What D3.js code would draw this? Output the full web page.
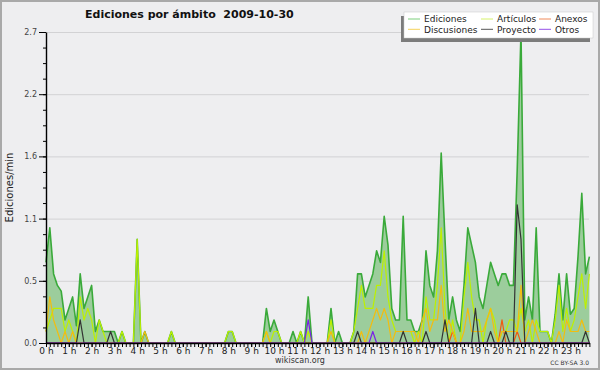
<!DOCTYPE html>
<html>
<head>
<meta charset="utf-8">
<script src="https://cdn.jsdelivr.net/npm/d3@7"></script>
<style>
  body { margin: 0; background: #fff; }
  text { font-family: "DejaVu Sans", sans-serif; }
</style>
</head>
<body>
<svg id="chart" width="600" height="370"></svg>
<script>
// one value every 10 minutes, edits per minute
let ediciones = [
  0.7, 1.0, 0.6, 0.5, 0.45, 0.2,
  0.3, 0.4, 0.15, 0.6, 0.3, 0.4,
  0.5, 0.1, 0.2, 0.1, 0.1, 0.1,
  0.1, 0, 0.1, 0, 0, 0,
  0.9, 0, 0.1, 0, 0, 0,
  0, 0, 0, 0.1, 0, 0,
  0, 0, 0, 0, 0, 0,
  0, 0, 0, 0, 0, 0,
  0.1, 0.1, 0, 0, 0, 0,
  0, 0, 0, 0, 0.3, 0.1,
  0.2, 0.1, 0, 0, 0, 0.1,
  0, 0.1, 0, 0.4, 0, 0,
  0, 0, 0, 0.3, 0, 0.1,
  0, 0, 0, 0.1, 0.6, 0.6,
  0.4, 0.5, 0.6, 0.8, 0.7, 1.1,
  0.85, 0.3, 0.2, 0.2, 1.1, 0.2,
  0.2, 0.1, 0.1, 0.2, 0.8, 0.5,
  0.4, 0.8, 1.65, 0.9, 0.2, 0.4,
  0.2, 0.1, 0.5, 1.0, 0.85, 0.7,
  0.4, 0.3, 0.5, 0.7, 0.6, 0.5,
  0.6, 0.6, 0.5, 0.5, 1.5, 2.7,
  0.2, 0.4, 0.2, 1.0, 0.1, 0.1,
  0.1, 0, 0.25, 0.6, 0.2, 0.6,
  0.25, 0.3, 0.75, 1.3, 0.6, 0.75
];
let articulos = [
  0.1, 0.2, 0.3, 0.3, 0.3, 0.1,
  0.2, 0.1, 0, 0.4, 0.2, 0.3,
  0.2, 0, 0.2, 0.1, 0, 0,
  0, 0, 0.1, 0, 0, 0,
  0.9, 0, 0, 0, 0, 0,
  0, 0, 0, 0.1, 0, 0,
  0, 0, 0, 0, 0, 0,
  0, 0, 0, 0, 0, 0,
  0.1, 0.1, 0, 0, 0, 0,
  0, 0, 0, 0, 0.1, 0,
  0.1, 0.1, 0, 0, 0, 0,
  0, 0.1, 0, 0.1, 0, 0,
  0, 0, 0, 0.2, 0, 0,
  0, 0, 0, 0.1, 0.3, 0.5,
  0.3, 0.3, 0.3, 0.5, 0.5, 0.8,
  0.4, 0.2, 0.1, 0.1, 0.1, 0.1,
  0.1, 0, 0.1, 0, 0.4, 0.2,
  0.2, 0.5, 1.0, 0.3, 0, 0.2,
  0, 0, 0.4, 0.7, 0.4, 0.2,
  0.2, 0, 0.2, 0.3, 0.2, 0,
  0.1, 0.1, 0.2, 0.2, 0.1, 0.3,
  0.1, 0.2, 0, 0.2, 0.1, 0.1,
  0.1, 0, 0.2, 0.5, 0.1, 0.3,
  0.1, 0.2, 0.4, 0.6, 0.3, 0.6
];
let discusiones = [
  0.1, 0.4, 0.2, 0.1, 0, 0.1,
  0, 0.1, 0, 0, 0, 0,
  0, 0, 0, 0, 0, 0,
  0, 0, 0, 0, 0, 0,
  0, 0, 0.1, 0, 0, 0,
  0, 0, 0, 0, 0, 0,
  0, 0, 0, 0, 0, 0,
  0, 0, 0, 0, 0, 0,
  0, 0, 0, 0, 0, 0,
  0, 0, 0, 0, 0.1, 0,
  0, 0, 0, 0, 0, 0,
  0, 0, 0, 0, 0, 0,
  0, 0, 0, 0.1, 0, 0,
  0, 0, 0, 0, 0, 0.1,
  0, 0.1, 0.2, 0.3, 0.2, 0.3,
  0.2, 0, 0.1, 0.1, 0.1, 0.1,
  0.1, 0.1, 0, 0.2, 0.3, 0.1,
  0.2, 0.2, 0.5, 0.1, 0.2, 0.1,
  0, 0, 0.1, 0.3, 0.1, 0.1,
  0.1, 0.1, 0.2, 0.3, 0.1, 0,
  0.1, 0.1, 0.1, 0.1, 0.1, 0.5,
  0, 0.1, 0.2, 0.1, 0, 0,
  0, 0, 0, 0.1, 0, 0.2,
  0.1, 0.1, 0.1, 0.2, 0.1, 0.1
];
let proyecto = [
  0, 0, 0, 0, 0, 0,
  0, 0, 0, 0.2, 0, 0,
  0, 0, 0, 0, 0, 0.1,
  0, 0, 0, 0, 0, 0,
  0, 0, 0, 0, 0, 0,
  0, 0, 0, 0, 0, 0,
  0, 0, 0, 0, 0, 0,
  0, 0, 0, 0, 0, 0,
  0, 0, 0, 0, 0, 0,
  0, 0, 0, 0, 0, 0,
  0, 0, 0, 0, 0, 0,
  0, 0, 0, 0, 0, 0,
  0, 0, 0, 0, 0, 0,
  0, 0, 0, 0, 0.1, 0,
  0, 0, 0, 0, 0, 0,
  0, 0, 0, 0, 0.1, 0,
  0, 0, 0, 0, 0.1, 0,
  0, 0, 0, 0.2, 0, 0,
  0, 0, 0, 0, 0, 0.3,
  0, 0, 0, 0.1, 0, 0,
  0, 0.1, 0, 0, 1.2, 0.9,
  0, 0, 0, 0, 0, 0,
  0, 0, 0, 0, 0, 0,
  0, 0, 0, 0, 0.1, 0
];
let anexos = [
  0, 0, 0, 0, 0, 0,  0, 0, 0, 0, 0, 0,  0, 0, 0, 0, 0, 0,
  0, 0, 0, 0, 0, 0,  0, 0, 0, 0, 0, 0,  0, 0, 0, 0, 0, 0,
  0, 0, 0, 0, 0, 0,  0, 0, 0, 0, 0, 0,  0, 0, 0, 0, 0, 0,
  0, 0, 0, 0, 0, 0,  0, 0, 0, 0, 0, 0,  0, 0, 0, 0, 0, 0,
  0, 0, 0, 0, 0, 0,  0, 0, 0, 0, 0, 0,  0, 0, 0, 0, 0, 0,
  0, 0, 0, 0, 0, 0,  0, 0, 0, 0, 0, 0,  0, 0, 0, 0, 0, 0.1,
  0, 0, 0, 0, 0, 0,  0, 0, 0, 0, 0, 0,
  0.2, 0, 0, 0, 0.1, 0,  0, 0, 0, 0, 0, 0,
  0, 0, 0, 0, 0, 0,  0, 0, 0, 0, 0, 0
];
let otros = [
  0, 0, 0, 0, 0, 0,  0, 0, 0, 0, 0, 0,  0, 0, 0, 0, 0, 0,
  0, 0, 0, 0, 0, 0,  0, 0, 0, 0, 0, 0,  0, 0, 0, 0, 0, 0,
  0, 0, 0, 0, 0, 0,  0, 0, 0, 0, 0, 0,  0, 0, 0, 0, 0, 0,
  0, 0, 0, 0, 0, 0,  0, 0, 0, 0, 0, 0,  0, 0, 0, 0.2, 0, 0,
  0, 0, 0, 0, 0, 0,  0, 0, 0, 0, 0, 0,
  0, 0, 0.1, 0, 0, 0,  0, 0, 0, 0, 0, 0,
  0, 0, 0, 0, 0, 0,  0, 0, 0, 0, 0, 0,  0, 0, 0, 0, 0, 0,
  0, 0, 0, 0, 0, 0,  0, 0, 0, 0, 0, 0,  0, 0, 0, 0, 0, 0,
  0, 0, 0, 0, 0, 0,  0, 0, 0, 0, 0, 0
];

let hourLabels = ["0 h", "1 h", "2 h", "3 h", "4 h", "5 h", "6 h", "7 h", "8 h", "9 h", "10 h", "11 h",
  "12 h", "13 h", "14 h", "15 h", "16 h", "17 h", "18 h", "19 h", "20 h", "21 h", "22 h", "23 h"];
let yTicks = [0, 0.54, 1.08, 1.62, 2.16, 2.7];
let yLabels = ["0.0", "0.5", "1.1", "1.6", "2.2", "2.7"];

let legendNames = ["Ediciones", "Artículos", "Anexos", "Discusiones", "Proyecto", "Otros"];

let colors = {
  ediciones: "#3aaa3a",
  fill: "#9ccd9c",
  articulos: "#bdf000",
  discusiones: "#f2bd10",
  proyecto: "#333333",
  anexos: "#f05a10",
  otros: "#7a22e6"
};

let svg = d3.select("#chart");

let margin = { top: 32, right: 11, bottom: 27, left: 46 };
let plotWidth = 600 - margin.left - margin.right;
let plotHeight = 370 - margin.top - margin.bottom;

// background + frame
svg.append("rect").attr("x", 0).attr("y", 0).attr("width", 600).attr("height", 370)
  .attr("fill", "#eeeef0");
svg.append("rect").attr("x", 1).attr("y", 1).attr("width", 598).attr("height", 368)
  .attr("fill", "none").attr("stroke", "#a9a9a9").attr("stroke-width", 2);

let x = d3.scaleLinear().domain([0, 143]).range([0, 543.4]);
let y = d3.scaleLinear().domain([0, 2.7]).range([plotHeight, 0]);

let plot = svg.append("g").attr("transform", "translate(" + margin.left + "," + margin.top + ")");

// grid
plot.append("g")
  .call(d3.axisRight(y).tickValues(yTicks.slice(1)).tickSize(plotWidth).tickFormat(""))
  .call(g => g.select(".domain").remove())
  .selectAll("line").attr("stroke", "#d2d2d4");

// total area + line
let area = d3.area()
  .x((d, i) => x(i))
  .y0(y(0))
  .y1(d => y(d));
let line = d3.line()
  .x((d, i) => x(i))
  .y(d => y(d));

plot.append("path").datum(ediciones)
  .attr("d", area)
  .attr("fill", colors.fill);

plot.append("path").datum(ediciones)
  .attr("d", line)
  .attr("fill", "none")
  .attr("stroke", colors.ediciones)
  .attr("stroke-width", 1.6)
  .attr("stroke-linejoin", "round");

let series = [
  [articulos, colors.articulos],
  [anexos, colors.anexos],
  [discusiones, colors.discusiones],
  [proyecto, colors.proyecto],
  [otros, colors.otros]
];
series.forEach(function(s) {
  plot.append("path").datum(s[0])
    .attr("d", line)
    .attr("fill", "none")
    .attr("stroke", s[1])
    .attr("stroke-width", 1.2)
    .attr("stroke-linejoin", "round");
});

// y axis
let yMinor = d3.range(0, 2.7001, 0.135);
plot.append("g")
  .call(d3.axisLeft(y).tickValues(yMinor).tickSize(3).tickSizeOuter(0).tickFormat(""))
  .call(g => g.select(".domain").attr("stroke", "#000").attr("stroke-width", 1.4));
let yGroup = plot.append("g")
  .call(d3.axisLeft(y).tickValues(yTicks).tickSize(7).tickSizeOuter(0).tickPadding(2)
    .tickFormat((d, i) => yLabels[i]));
yGroup.select(".domain").remove();
yGroup.selectAll("text").attr("font-size", 8).attr("fill", "#444").attr("font-family", "DejaVu Sans");

// x axis
let xGroup = plot.append("g").attr("transform", "translate(0," + plotHeight + ")");
xGroup.call(d3.axisBottom(x).tickValues(d3.range(0, 144)).tickSize(4).tickSizeOuter(0).tickFormat(""))
  .call(g => g.select(".domain").attr("stroke", "#000").attr("stroke-width", 1.4));
let hourGroup = plot.append("g").attr("transform", "translate(0," + plotHeight + ")");
hourGroup.call(d3.axisBottom(x).tickValues(hourLabels.map((h, i) => i * 6)).tickSize(4).tickPadding(1)
  .tickFormat((d, i) => hourLabels[i]));
hourGroup.select(".domain").remove();
hourGroup.selectAll("text").attr("font-size", 9).attr("fill", "#222").attr("font-family", "DejaVu Sans");

// titles
svg.append("text")
  .attr("x", 85).attr("y", 18)
  .attr("font-size", 11).attr("font-weight", "bold").attr("fill", "#111")
  .style("white-space", "pre")
  .text("Ediciones por ámbito  2009-10-30");

svg.append("text")
  .attr("transform", "translate(13," + (margin.top + plotHeight / 2) + ") rotate(-90)")
  .attr("text-anchor", "middle")
  .attr("font-size", 10).attr("fill", "#222")
  .text("Ediciones/min");

svg.append("text")
  .attr("x", 300).attr("y", 363)
  .attr("text-anchor", "middle")
  .attr("font-size", 8).attr("fill", "#333")
  .text("wikiscan.org");

svg.append("text")
  .attr("x", 589).attr("y", 364.5)
  .attr("text-anchor", "end")
  .attr("font-size", 6).attr("fill", "#333")
  .text("CC BY-SA 3.0");

// legend
let legend = svg.append("g");
legend.append("rect").attr("x", 401).attr("y", 16).attr("width", 189).attr("height", 26).attr("fill", "#7c7c7c");
legend.append("rect").attr("x", 404).attr("y", 12).attr("width", 189).attr("height", 26)
  .attr("fill", "#fff").attr("stroke", "#c8c8c8").attr("stroke-width", 0.5);

let legendColors = ["#7dcf7d", "#d6f26a", "#f08a5a", "#f5d25a", "#555555", "#9550e8"];
let colX = [408, 481, 539];
let rowY = [19, 29.3];
legendNames.forEach(function(name, i) {
  let cx = colX[i % 3];
  let cy = rowY[Math.floor(i / 3)];
  legend.append("line")
    .attr("x1", cx).attr("x2", cx + 12)
    .attr("y1", cy).attr("y2", cy)
    .attr("stroke", legendColors[i]).attr("stroke-width", 1);
  legend.append("text")
    .attr("x", cx + 16).attr("y", cy + 3.4)
    .attr("font-size", 9).attr("fill", "#222")
    .text(name);
});
</script>
</body>
</html>
